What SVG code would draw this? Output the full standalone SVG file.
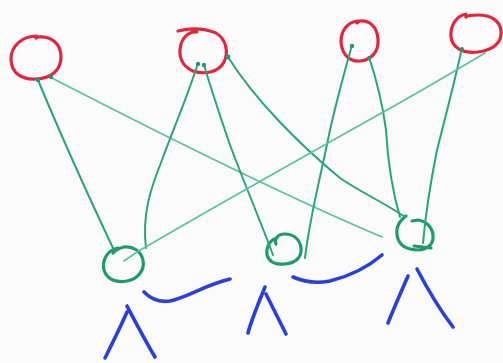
<svg xmlns="http://www.w3.org/2000/svg" width="503" height="363" viewBox="0 0 503 363">
  <style>
    .top { fill: none; stroke: #e3263f; stroke-width: 3.2; stroke-linecap: round; stroke-linejoin: round; }
    .bot { fill: none; stroke: #1f9a6e; stroke-width: 3.2; stroke-linecap: round; }
    .edge { fill: none; stroke: #2aa47a; stroke-width: 2; stroke-linecap: round; }
    .faint { stroke: #5cc39d; stroke-width: 1.8; }
    .ink { fill: none; stroke: #2b3fd9; stroke-width: 3.6; stroke-linecap: round; stroke-linejoin: round; }
  </style>
  <rect width="503" height="363" fill="#fbfbfb"/>

  <!-- upper row -->
  <g id="t1"><path class="top" d="M37 36 C22 36 11 46 11 59 C11 73 22 80 36 79 C52 78 61 70 61 57 C61 44 52 36 38 37 L36 38"/></g>
  <g id="t2"><path class="top" d="M178 31 C190 28 204 28 216 33 C226 39 229 52 224 62 C219 72 205 75 193 71 C181 66 178 55 181 44 C184 35 191 31 197 32"/></g>
  <g id="t3"><path class="top" d="M358 21 C347 22 341 31 341 42 C342 55 350 62 360 61 C372 60 379 51 378 39 C377 27 370 20 360 21 L357 23"/></g>
  <g id="t4"><path class="top" d="M466 14 C456 16 450 26 451 37 C452 48 464 54 478 52 C494 50 502 42 501 31 C500 20 490 15 478 15 C472 15 468 15 466 17"/></g>

  <!-- lower row -->
  <g id="b1"><path class="bot" d="M118 248 C106 250 102 262 104 270 C107 280 117 283 127 281 C138 279 145 270 143 260 C141 251 133 246 124 247 C119 248 116 250 113 253"/></g>
  <g id="b2"><path class="bot" d="M277 238 C269 240 266 248 267 255 C269 262 276 265 285 264 C296 263 302 257 301 248 C300 239 293 234 285 234 C277 234 274 240 276 244"/></g>
  <g id="b3"><path class="bot" d="M406 216 C398 222 395 230 398 239 C401 247 410 250 419 250 C428 249 434 244 433 235 C432 227 426 221 418 220 L412 221 M414 246 L431 248"/></g>

  <!-- connectors -->
  <g id="edges">
    <path class="edge" d="M113 248 C95 210 65 145 38 80"/>
    <path class="edge faint" d="M382 237 C330 215 230 170 50 77"/>
    <path class="edge" d="M146 248 C142 215 150 190 162 160 C175 125 188 95 198 63"/>
    <path class="edge" d="M273 255 C262 225 245 185 230 145 C218 110 210 85 204 65"/>
    <path class="edge" d="M405 217 C385 203 360 192 340 178 C300 145 255 100 228 57"/>
    <path class="edge" d="M305 258 C310 215 320 180 330 130 C338 95 345 70 352 45"/>
    <path class="edge" d="M400 217 C392 190 388 165 386 130 C382 100 375 75 369 57"/>
    <path class="edge" d="M423 243 C426 210 430 185 437 150 C446 115 455 80 462 48"/>
    <path class="edge faint" d="M124 261 L137 252 C200 215 280 170 360 125 C420 92 460 68 485 53"/>
    <!-- pen-down dots where strokes start -->
    <g fill="#1f9a6e">
      <circle cx="38" cy="80" r="2.2"/><circle cx="51" cy="77" r="2.2"/>
      <circle cx="198" cy="64" r="2.2"/><circle cx="204" cy="65" r="2.2"/>
      <circle cx="228" cy="57" r="2.4"/><circle cx="352" cy="46" r="2.2"/>
      <circle cx="369" cy="58" r="2"/><circle cx="462" cy="49" r="2"/>
    </g>
  </g>

  <!-- blue strokes -->
  <g id="marks">
    <path class="ink" d="M144 292 C150 298 158 303 170 301 C188 297 205 285 230 279"/>
    <path class="ink" d="M293 277 C302 281 315 284 330 281 C350 276 368 267 382 255"/>
    <path class="ink" d="M127 312 C120 328 112 344 105 358 M127 306 C136 323 146 342 155 357"/>
    <path class="ink" d="M265 287 C259 302 252 318 248 333 M266 294 C273 308 280 322 286 334"/>
    <path class="ink" d="M408 276 C401 292 394 308 388 323 M417 269 C428 290 440 310 453 327"/>
  </g>
</svg>
